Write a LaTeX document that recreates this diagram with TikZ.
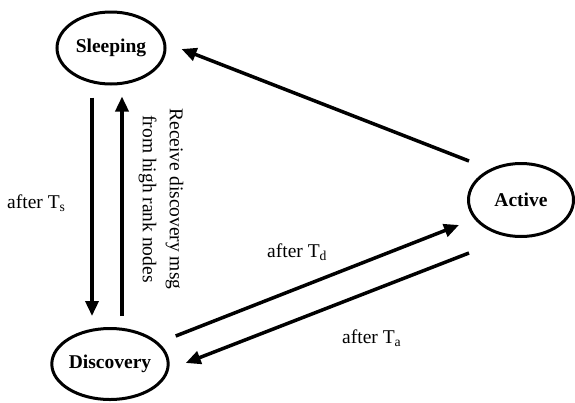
\documentclass[tikz,border=0pt]{standalone}
\usepackage{fontspec}
\setmainfont{Liberation Serif}
\usetikzlibrary{shapes.geometric,arrows.meta}
\begin{document}
\begin{tikzpicture}[x=1pt,y=-1pt,
  state/.style={draw,ellipse,line width=3pt,inner sep=0pt,
    font=\fontsize{19.5}{23}\selectfont\bfseries},
  trans/.style={line width=3.5pt,-{Triangle[length=15pt,width=13pt]}},
  lbl/.style={font=\fontsize{19.5}{23}\selectfont,inner sep=0pt}]
\useasboundingbox (0,0) rectangle (575,402);

% states
\node[state,minimum width=108pt,minimum height=72pt] (sleep) at (111,48) {Sleeping};
\node[state,minimum width=109pt,minimum height=71pt] (disc) at (110,364) {Discovery};
\node[state,minimum width=105pt,minimum height=73pt] (active) at (521,200) {Active};

% transitions
\draw[trans] ([xshift=-19pt,yshift=-12pt]sleep.south) -- ([xshift=-18pt,yshift=11pt]disc.north);
\draw[trans] ([xshift=12pt,yshift=11pt]disc.north) -- ([xshift=11pt,yshift=-11pt]sleep.south);
\draw[trans] ([xshift=2pt,yshift=39pt]active.west) -- ([xshift=15pt,yshift=-1pt]sleep.east);
\draw[trans] ([xshift=6pt,yshift=28pt]disc.east) -- ([xshift=-8pt,yshift=-25pt]active.west);
\draw[trans] ([xshift=2pt,yshift=-53pt]active.west) -- ([xshift=16pt,yshift=1pt]disc.east);

% labels
\node[lbl,anchor=base west] (ts) at (7,208) {after T\textsubscript{s}};
\node[lbl,anchor=base west] (td) at (267,257) {after T\textsubscript{d}};
\node[lbl,anchor=base west] (ta) at (342,343) {after T\textsubscript{a}};
\node[lbl,rotate=-90,align=center,font=\fontsize{19.5}{27}\selectfont] (rcv) at (161,199)
  {Receive discovery msg\\from high rank nodes};
\end{tikzpicture}
\end{document}
